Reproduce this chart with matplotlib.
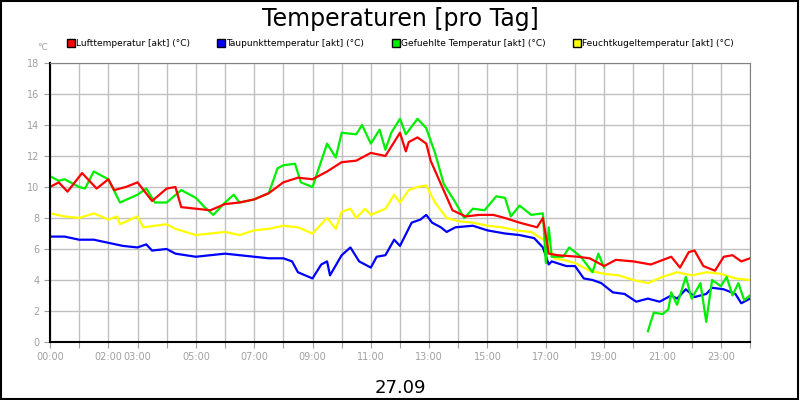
import numpy as np
import matplotlib
matplotlib.use("Agg")
import matplotlib.pyplot as plt
from matplotlib.lines import Line2D

# hours of day and values
red_t = [0,0.3,0.6,1.1,1.6,2.0,2.2,2.6,3.0,3.5,4.0,4.3,4.5,5.0,5.5,6.0,6.5,7.0,7.5,8.0,8.5,9.0,9.5,10.0,10.5,11.0,11.5,11.8,12.0,12.2,12.3,12.6,12.9,13.05,13.4,13.8,14.25,14.7,15.2,15.6,16.1,16.7,16.9,17.1,17.4,18.1,18.5,19.0,19.4,20.0,20.6,21.3,21.6,21.9,22.1,22.4,22.8,23.1,23.4,23.7,24.0]
red_v = [10.0,10.3,9.7,10.9,9.9,10.5,9.8,10.0,10.3,9.1,9.9,10.0,8.7,8.6,8.5,8.9,9.0,9.2,9.6,10.3,10.6,10.5,11.0,11.6,11.7,12.2,12.0,12.9,13.5,12.3,12.9,13.2,12.8,11.7,10.2,8.5,8.1,8.2,8.2,8.0,7.7,7.4,8.0,5.7,5.6,5.5,5.4,4.9,5.3,5.2,5.0,5.5,4.8,5.8,5.9,4.9,4.6,5.5,5.6,5.2,5.4]

green_t = [0,0.3,0.5,1.0,1.2,1.5,2.0,2.4,3.0,3.3,3.6,4.0,4.5,5.0,5.3,5.6,6.0,6.3,6.5,7.0,7.5,7.8,8.0,8.4,8.6,9.0,9.5,9.8,10.0,10.5,10.7,11.0,11.3,11.5,11.7,12.0,12.2,12.6,12.9,13.2,13.5,13.9,14.2,14.5,14.9,15.3,15.6,15.8,16.1,16.5,16.9,17.0,17.1,17.2,17.6,17.8,18.2,18.6,18.8,19.0,19.05,20.5,20.7,21.0,21.2,21.3,21.5,21.8,22.0,22.3,22.5,22.7,23.0,23.2,23.4,23.6,23.8,24.0]
green_v = [10.7,10.4,10.5,10.0,9.9,11.0,10.5,9.0,9.5,9.9,9.0,9.0,9.8,9.3,8.7,8.2,9.0,9.5,9.0,9.2,9.6,11.2,11.4,11.5,10.3,10.0,12.8,11.9,13.5,13.4,14.0,12.8,13.7,12.4,13.5,14.4,13.4,14.4,13.8,12.2,10.2,9.0,8.0,8.6,8.5,9.4,9.3,8.1,8.8,8.2,8.3,5.1,7.4,5.5,5.5,6.1,5.5,4.5,5.7,4.8,np.nan,0.7,1.9,1.8,2.1,3.2,2.4,4.2,2.8,3.8,1.3,4.0,3.6,4.2,3.0,3.8,2.7,3.0]

yellow_t = [0,0.5,1.0,1.5,2.0,2.3,2.4,3.0,3.2,4.0,4.3,5.0,5.5,6.0,6.5,7.0,7.5,8.0,8.5,9.0,9.5,9.8,10.0,10.3,10.5,10.8,11.0,11.5,11.8,12.0,12.3,12.6,12.9,13.2,13.6,14.0,14.5,15.0,15.5,16.0,16.5,17.0,17.3,17.6,18.0,18.5,19.0,19.5,20.0,20.5,21.0,21.5,22.0,22.5,23.0,23.5,24.0]
yellow_v = [8.3,8.1,8.0,8.3,7.9,8.1,7.6,8.1,7.4,7.6,7.3,6.9,7.0,7.1,6.9,7.2,7.3,7.5,7.4,7.0,8.0,7.3,8.4,8.6,8.0,8.6,8.2,8.6,9.5,9.0,9.8,10.0,10.1,9.0,8.0,7.8,7.7,7.5,7.4,7.2,7.1,6.5,5.4,5.3,5.1,4.6,4.4,4.3,4.0,3.8,4.2,4.5,4.3,4.5,4.4,4.1,4.0]

blue_t = [0,0.5,1.0,1.5,2.0,2.5,3.0,3.3,3.5,4.0,4.3,5.0,5.5,6.0,6.5,7.0,7.5,8.0,8.3,8.5,9.0,9.3,9.5,9.6,10.0,10.3,10.6,11.0,11.2,11.5,11.8,12.0,12.4,12.7,12.9,13.1,13.4,13.6,13.9,14.5,15.0,15.6,16.1,16.6,16.9,17.1,17.2,17.7,18.0,18.3,18.6,18.9,19.3,19.7,20.1,20.5,20.9,21.3,21.5,21.8,22.1,22.5,22.7,23.1,23.5,23.7,24.0]
blue_v = [6.8,6.8,6.6,6.6,6.4,6.2,6.1,6.3,5.9,6.0,5.7,5.5,5.6,5.7,5.6,5.5,5.4,5.4,5.2,4.5,4.1,5.0,5.2,4.3,5.6,6.1,5.2,4.8,5.5,5.6,6.6,6.2,7.7,7.9,8.2,7.7,7.4,7.1,7.4,7.5,7.2,7.0,6.9,6.7,6.1,5.0,5.2,4.9,4.9,4.1,4.0,3.8,3.2,3.1,2.6,2.8,2.6,3.0,2.8,3.4,2.9,3.1,3.5,3.4,3.1,2.5,2.8]

series_names = ["Lufttemperatur [akt] (°C)", "Taupunkttemperatur [akt] (°C)",
                "Gefuehlte Temperatur [akt] (°C)", "Feuchtkugeltemperatur [akt] (°C)"]
colors = ["#ff0000", "#0000ff", "#00ee00", "#ffff00"]
tick_labels = {0: "00:00", 2: "02:00", 3: "03:00", 5: "05:00", 7: "07:00", 9: "09:00",
               11: "11:00", 13: "13:00", 15: "15:00", 17: "17:00", 19: "19:00",
               21: "21:00", 23: "23:00"}

fig = plt.figure(figsize=(8, 4), dpi=100)
fig.patch.set_facecolor("white")
fig.add_artist(plt.Rectangle((0.001, 0.002), 0.997, 0.996, transform=fig.transFigure,
                             fill=False, edgecolor="black", linewidth=1.5))
ax = fig.add_axes([50/800, 58/400, 700/800, 279/400])

for t, v, c in [(yellow_t, yellow_v, colors[3]), (blue_t, blue_v, colors[1]),
                (green_t, green_v, colors[2]), (red_t, red_v, colors[0])]:
    ax.plot(t, v, color=c, linewidth=1.6)

ax.set_xlim(0, 24)
ax.set_ylim(0, 18)
ax.set_yticks(range(0, 19, 2))
ax.set_xticks(range(0, 25))
ax.set_xticklabels([tick_labels.get(h, "") for h in range(0, 25)])
ax.grid(True, color="#c0c0c0", linewidth=1)
ax.set_axisbelow(True)
ax.tick_params(colors="#a0a0a0", labelsize=7, length=4, labelcolor="#a0a0a0")
for s in ["left", "bottom"]:
    ax.spines[s].set_color("black")
    ax.spines[s].set_linewidth(1.5)
for s in ["top", "right"]:
    ax.spines[s].set_color("#808080")
ax.set_xlabel("27.09", fontsize=13, labelpad=12)

fig.text(0.5, 1 - 19/400, "Temperaturen [pro Tag]", ha="center", va="center", fontsize=17)
fig.text(37/800, 1 - 48/400, "°C", color="#a0a0a0", fontsize=6.5, ha="left", va="center")
handles = [Line2D([], [], marker="s", linestyle="none", markerfacecolor=c,
                  markeredgecolor="black", markersize=6) for c in colors]
fig.legend(handles, series_names, loc="center", bbox_to_anchor=(0.5, 1 - 44/400), ncol=4,
           frameon=False, fontsize=6.5, handletextpad=0.05, columnspacing=3.0,
           handlelength=1)

fig.savefig("out.png", dpi=100)
